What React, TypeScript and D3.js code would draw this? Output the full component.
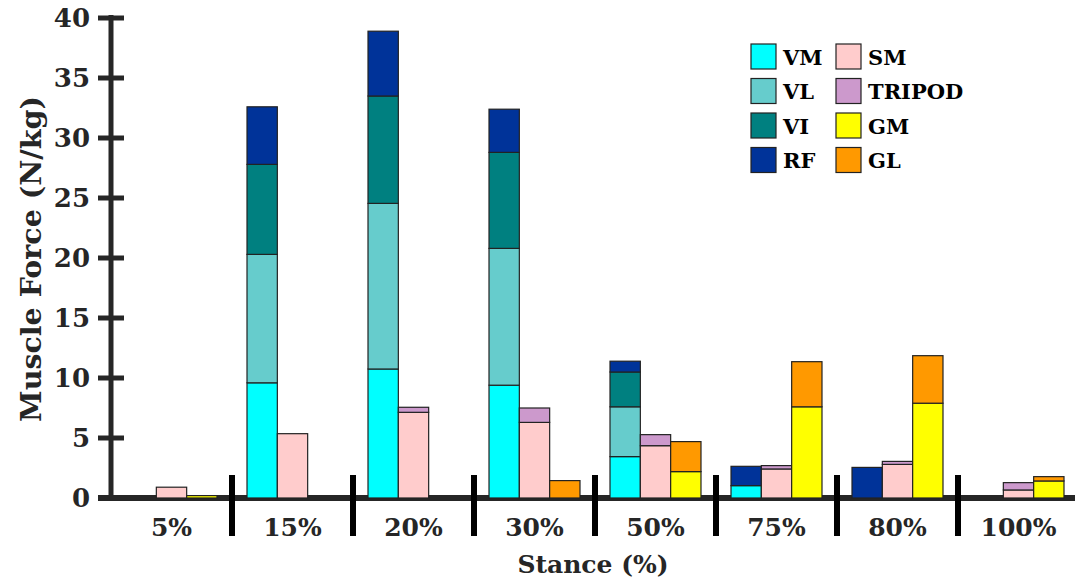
import React from "react";
import * as d3 from "d3";

const categories = ["5%", "15%", "20%", "30%", "50%", "75%", "80%", "100%"];
// Bar 1 stack: VM, VL, VI, RF (segment heights)
const VM = [0, 9.6, 10.75, 9.4, 3.45, 1.03, 0, 0];
const VL = [0, 10.7, 13.8, 11.4, 4.15, 0, 0, 0];
const VI = [0, 7.5, 8.95, 8.0, 2.9, 0, 0, 0];
const RF = [0, 4.8, 5.4, 3.6, 0.9, 1.61, 2.55, 0];
// Bar 2 stack: SM, TRIPOD
const SM = [0.9, 5.36, 7.14, 6.3, 4.36, 2.42, 2.8, 0.67];
const TRIPOD = [0, 0, 0.42, 1.2, 0.92, 0.28, 0.25, 0.61];
// Bar 3 stack: GM, GL
const GM = [0.2, 0, 0, 0, 2.2, 7.6, 7.9, 1.42];
const GL = [0, 0, 0, 1.45, 2.5, 3.76, 3.96, 0.36];

const yTicks = [0, 5, 10, 15, 20, 25, 30, 35, 40];

const colors: Record<string, string> = {
  VM: "#00FFFF",
  VL: "#66CCCC",
  VI: "#008080",
  RF: "#003399",
  SM: "#FFCCCC",
  TRIPOD: "#CC99CC",
  GM: "#FFFF00",
  GL: "#FF9900",
};

const stacks: { name: string; values: number[] }[][] = [
  [
    { name: "VM", values: VM },
    { name: "VL", values: VL },
    { name: "VI", values: VI },
    { name: "RF", values: RF },
  ],
  [
    { name: "SM", values: SM },
    { name: "TRIPOD", values: TRIPOD },
  ],
  [
    { name: "GM", values: GM },
    { name: "GL", values: GL },
  ],
];

const legendCol1 = ["VM", "VL", "VI", "RF"];
const legendCol2 = ["SM", "TRIPOD", "GM", "GL"];

const FONT = "'DejaVu Serif', serif";
const TXT = "#262626";

export default function App() {
  const W = 1075;
  const H = 581;
  const y = d3.scaleLinear().domain([0, 40]).range([498, 18]);
  const x = d3.scaleBand<string>().domain(categories).range([111, 111 + 121 * 8]).paddingInner(0).paddingOuter(0);
  const gw = x.bandwidth();
  const sub = d3.scaleBand<number>().domain([0, 1, 2]).range([gw * 0.124, gw * 0.876]);
  const bw = sub.bandwidth();

  const rects: React.ReactNode[] = [];
  categories.forEach((c, ci) => {
    stacks.forEach((stack, si) => {
      let base = 0;
      stack.forEach((seg) => {
        const v = seg.values[ci];
        const y0 = y(base);
        const y1 = y(base + v);
        rects.push(
          <rect
            key={`${c}-${seg.name}`}
            x={(x(c) as number) + (sub(si) as number)}
            y={y1}
            width={bw}
            height={Math.max(0, y0 - y1)}
            fill={colors[seg.name]}
            stroke={v === 0 ? "#000" : "#222"}
            strokeWidth={v === 0 ? 1.5 : 1.2}
          />
        );
        base += v;
      });
    });
  });

  return (
    <svg width={W} height={H} style={{ display: "block", position: "absolute", left: 0, top: 0 }}>
      <rect x={0} y={0} width={W} height={H} fill="#fff" />
      {/* x axis line */}
      <line x1={98} x2={W} y1={y(0)} y2={y(0)} stroke={TXT} strokeWidth={6} />
      {rects}
      {/* y axis */}
      <line x1={111} x2={111} y1={y(40) - 3} y2={y(0)} stroke={TXT} strokeWidth={5} />
      {yTicks.map((t) => (
        <g key={t}>
          <line x1={98} x2={124} y1={y(t)} y2={y(t)} stroke={TXT} strokeWidth={5} />
          <text
            x={90}
            y={y(t)}
            textAnchor="end"
            dominantBaseline="central"
            fontFamily={FONT}
            fontWeight="bold"
            fontSize={26}
            fill={TXT}
          >
            {t}
          </text>
        </g>
      ))}
      {/* group separators */}
      {categories.slice(1).map((c) => (
        <line key={c} x1={x(c)} x2={x(c)} y1={475} y2={536} stroke="#000" strokeWidth={6} />
      ))}
      {categories.map((c) => (
        <text
          key={c}
          x={(x(c) as number) + gw / 2}
          y={527}
          textAnchor="middle"
          dominantBaseline="central"
          fontFamily={FONT}
          fontWeight="bold"
          fontSize={25}
          fill={TXT}
        >
          {c}
        </text>
      ))}
      <text x={593} y={573} textAnchor="middle" fontFamily={FONT} fontWeight="bold" fontSize={25} fill={TXT}>
        Stance (%)
      </text>
      <text
        transform={`translate(41,259) rotate(-90)`}
        textAnchor="middle"
        fontFamily={FONT}
        fontWeight="bold"
        fontSize={28.5}
        fill={TXT}
      >
        Muscle Force (N/kg)
      </text>
      {/* legend */}
      {[legendCol1, legendCol2].map((col, ci) =>
        col.map((name, ri) => {
          const bx = ci === 0 ? 751 : 836;
          const by = 44 + ri * 34.5;
          return (
            <g key={name}>
              <rect x={bx} y={by} width={25} height={25} fill={colors[name]} stroke="#222" strokeWidth={1.2} />
              <text
                x={bx + 32}
                y={by + 13}
                dominantBaseline="central"
                fontFamily={FONT}
                fontWeight="bold"
                fontSize={21}
                fill="#000"
              >
                {name}
              </text>
            </g>
          );
        })
      )}
    </svg>
  );
}
